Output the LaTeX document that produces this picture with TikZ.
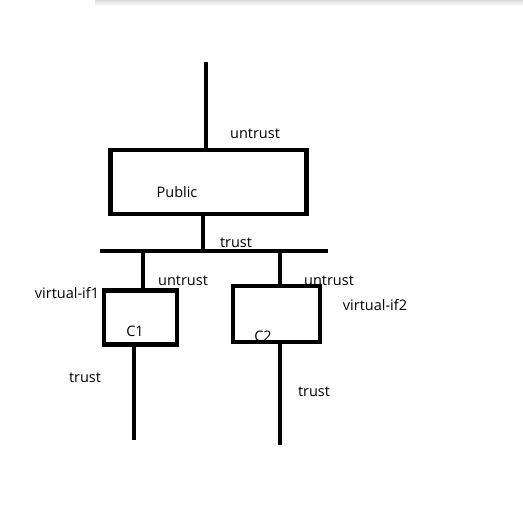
\documentclass[tikz,border=0pt]{standalone}
\usepackage{fontspec}
\setmainfont{Open Sans}
\usepackage{tikz}
\usetikzlibrary{positioning,calc}

\begin{document}
\begin{tikzpicture}[
  x=1pt,y=-1pt,
  netbox/.style={draw=black,line width=4.5pt,fill=white,inner sep=0pt},
  wire/.style={line width=4.5pt,color=black},
  lbl/.style={font=\fontsize{14.5}{17}\selectfont,text=black,inner sep=0pt,anchor=center}
]
\useasboundingbox (0,0) rectangle (523,512);
% faint window shadow along the top edge
\shade[top color=black!14,bottom color=white] (95,0) rectangle (523,6);

% devices
\node[netbox,minimum width=196,minimum height=64] (public) at (208.5,182) {};
\node[netbox,minimum width=73,minimum height=54] (c1) at (140.5,317.5) {};
\node[netbox,minimum width=87,minimum height=56] (c2) at (276.5,314) {};

% free ends of the wires
\coordinate (wan) at (206,62);
\coordinate (busL) at (100,251);
\coordinate (busR) at (328,251);
\coordinate (pubdown) at (203,251);
\coordinate (c1end) at (134,440);
\coordinate (c2end) at (280,445);

% wires
\draw[wire] (wan) -- (wan |- public.north);
\draw[wire] (pubdown |- public.south) -- (pubdown);
\draw[wire] (busL) -- (busR);
\draw[wire] ([xshift=2.5pt]c1.north) -- ([xshift=2.5pt]c1.north |- busL);
\draw[wire] ([xshift=3.5pt]c2.north) -- ([xshift=3.5pt]c2.north |- busL);
\draw[wire] (c1end |- c1.south) -- (c1end);
\draw[wire] (c2end |- c2.south) -- (c2end);

% labels
\node[lbl] (pubname) at (177,192) {Public};
\node[lbl] (pubup) at (255,134) {untrust};
\node[lbl] (pubtrust) at (236,243) {trust};
\node[lbl] (c1name) at (135,331) {C1};
\node[lbl] (c1up) at (183,281) {untrust};
\node[lbl] (vif1) at (67,293) {virtual-if1};
\node[lbl] (c1trust) at (85,378) {trust};
\node[lbl] (c2name) at (263,336) {C2};
\node[lbl] (c2up) at (329,281) {untrust};
\node[lbl] (vif2) at (375,305) {virtual-if2};
\node[lbl] (c2trust) at (314,392) {trust};
\end{tikzpicture}
\end{document}
